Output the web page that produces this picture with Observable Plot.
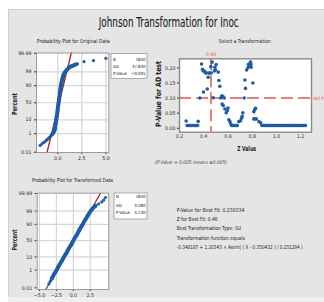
<!DOCTYPE html>
<html><head><meta charset="utf-8">
<script src="https://cdn.jsdelivr.net/npm/d3@7"></script>
<script src="https://cdn.jsdelivr.net/npm/@observablehq/plot@0.6"></script>
<style>
html,body{margin:0;padding:0;background:#fff;}
#root{position:relative;width:324px;height:302px;overflow:hidden;background:#fff;}
#bg{position:absolute;left:8px;top:9px;width:316px;height:287px;background:#e5e5e5;border-left:1px solid #cfcfcf;border-top:1px solid #cfcfcf;}
#bg2{position:absolute;left:8px;top:297px;width:316px;height:5px;background:#efefef;}
#root svg{position:absolute;}
</style></head>
<body><div id="root"><div id="bg"></div><div id="bg2"></div></div>
<script>
// ---------- data ----------
const probLabels = ["0.01","1","10","50","90","99","99.99"];
const probZ = [-3.719,-2.326,-1.282,0,1.282,2.326,3.719];
const origXTicks = [0, 2.5, 5];
const transXTicks = [-5, -2.5, 0, 2.5];
const zTicks = [0.2, 0.4, 0.6, 0.8, 1.0, 1.2];
const pTicks = [0, 0.05, 0.10, 0.15, 0.20];

// Original data probability plot (x value, normal score)
const origLowX = [-1.82,-1.62,-1.47,-1.35,-1.22,-1.10,-0.98,-0.88,-0.77,-0.66];
const origLowZ = [-3.20,-3.08,-2.99,-2.93,-2.85,-2.77,-2.70,-2.62,-2.54,-2.45];
const origBodyX = [-0.56,-0.47,-0.39,-0.32,-0.28,-0.25,-0.20,-0.15,-0.11,-0.07,-0.03,0.00,0.05,0.10,0.15,0.20,0.24,0.28,0.33,0.40,0.48,0.58,0.70,0.85,1.00,1.15,1.30,1.45,1.60,1.75,1.90];
const origBodyZ = [-2.36,-2.27,-2.17,-2.05,-1.90,-1.70,-1.50,-1.30,-1.10,-0.90,-0.70,-0.45,-0.20,0.05,0.30,0.55,0.80,1.05,1.30,1.55,1.80,2.05,2.25,2.40,2.52,2.62,2.70,2.76,2.80,2.84,2.88];
const origHighX = [2.05,2.73,3.71,5.00];
const origHighZ = [2.93,3.09,3.17,3.34];
const fitOrigX = [-1.11, 1.41];
const fitOrigZ = [-3.74, 3.74];

// Transformed data probability plot
const transX = [-3.60,-3.40,-3.20,-3.00,-2.80,-2.55,-2.35,-2.15,-1.95,-1.70,-1.50,-1.30,-1.05,-0.85,-0.65,-0.40,-0.20,0.00,0.20,0.45,0.65,0.85,1.05,1.30,1.50,1.70,1.95,2.15,2.40,2.65,2.95,3.30,3.75,4.20,4.50,4.75];
const transZ = [-3.40,-3.20,-3.00,-2.80,-2.60,-2.40,-2.20,-2.00,-1.80,-1.60,-1.40,-1.20,-1.00,-0.80,-0.60,-0.40,-0.20,0.00,0.20,0.40,0.60,0.80,1.00,1.20,1.40,1.60,1.80,2.00,2.20,2.40,2.60,2.75,2.90,3.05,3.20,3.40];
const fitTransX = [-4.07, 4.01];
const fitTransZ = [-3.85, 3.74];

// Select a transformation (Z value, P-value)
const selZ = [0.255,0.263,0.27,0.28,0.29,0.30,0.31,0.32,0.33,0.34,0.35,0.354,
  0.368,0.382,0.39,0.396,0.407,0.398,0.415,0.42,0.429,0.437,0.442,0.45,0.462,0.459,0.47,0.478,0.488,0.492,0.503,0.497,0.52,0.525,0.533,0.54,0.548,0.558,0.569,0.552,0.561,0.575,0.586,0.60,0.595,0.608,0.616,0.624,
  0.63,0.64,0.65,0.66,0.67,0.677,
  0.69,0.704,0.712,0.718,0.723,0.734,0.74,0.745,0.754,0.765,0.77,0.775,0.779,0.783,0.787,0.79,0.792,0.806,0.814,0.822,0.828,0.814,0.822,0.834,0.856,0.87,
  0.88,0.89,0.90,0.91,0.92,0.93,0.94,0.95,0.96,0.97,0.98,0.99,1.00,1.01,1.02,1.03,1.04,1.05,1.06,1.07,1.08,1.09,1.10,1.11,1.12,1.13,1.14,1.15,1.16,1.17,1.18,1.19,1.20,1.21,1.22,1.23,1.24];
const selP = [0.024,0.009,0.009,0.009,0.009,0.009,0.009,0.009,0.009,0.009,0.009,0.023,
  0.100,0.213,0.195,0.190,0.188,0.120,0.185,0.182,0.130,0.169,0.183,0.183,0.183,0.204,0.219,0.101,0.190,0.202,0.211,0.193,0.186,0.158,0.139,0.100,0.107,0.106,0.100,0.080,0.075,0.064,0.051,0.067,0.058,0.028,0.022,0.014,
  0.009,0.009,0.009,0.009,0.009,0.009,
  0.022,0.025,0.033,0.040,0.051,0.100,0.160,0.132,0.193,0.200,0.212,0.205,0.208,0.215,0.219,0.212,0.202,0.150,0.055,0.062,0.066,0.031,0.031,0.031,0.022,0.018,
  0.009,0.009,0.009,0.009,0.009,0.009,0.009,0.009,0.009,0.009,0.009,0.009,0.009,0.009,0.009,0.009,0.009,0.009,0.009,0.009,0.009,0.009,0.009,0.009,0.009,0.009,0.009,0.009,0.009,0.009,0.009,0.009,0.009,0.009,0.009,0.009,0.009];
const bestZ = 0.46;
const refP = 0.10;

const legendLabels = ["N","AD","P-Value"];
const legendOrig = ["1840","37.830","<0.005"];
const legendTrans = ["1840","0.480","0.230"];
const infoLines = ["P-Value for Best Fit: 0.230334","Z for Best Fit: 0.46","Best Transformation Type: SU","Transformation function equals","-0.348187 + 1.20343 × Asinh( ( X - 0.350432 ) / 0.231294 )"];

// ---------- build ----------
const FONT = "'Liberation Sans Narrow','DejaVu Sans Condensed',sans-serif";
const blue = "#1f5ba6", fitRed = "#a3262a", refRed = "#e05650";
const probMap = new Map(probZ.map((z,i)=>[z, probLabels[i]]));
const zip = (xs, ys) => xs.map((x,i)=>({x, y: ys[i]}));
const root = document.getElementById("root");
const baseStyle = {background:"transparent", fontFamily:FONT, fontSize:"5.2px", overflow:"visible", color:"#2a2a2a"};

function place(el, left, top){ el.style.left = left+"px"; el.style.top = top+"px"; root.appendChild(el); }

// Panel 1
const o1Low = zip(origLowX, origLowZ), o1Body = zip(origBodyX, origBodyZ), o1High = zip(origHighX, origHighZ);
const p1 = Plot.plot({
  width:118, height:128, marginLeft:36, marginRight:9.7, marginTop:12.5, marginBottom:16,
  style: baseStyle,
  x:{domain:[-2.2,5.3], ticks:origXTicks, tickFormat:d3.format(".1f"), tickSize:2, tickPadding:2, label:null},
  y:{domain:[-3.74,3.74], ticks:probZ, tickFormat:d=>probMap.get(d), tickSize:2, tickPadding:3, label:null},
  marks:[
    Plot.frame({fill:"white"}),
    Plot.ruleY(probZ.slice(1,-1), {stroke:"#d6d6d6", strokeWidth:1.2}),
    Plot.ruleX(origXTicks, {stroke:"#d6d6d6", strokeWidth:1.2}),
    Plot.line(zip(fitOrigX, fitOrigZ), {x:"x", y:"y", stroke:fitRed, strokeWidth:1.3}),
    Plot.line(o1Body, {x:"x", y:"y", stroke:blue, strokeWidth:4, strokeLinecap:"round", strokeLinejoin:"round"}),
    Plot.dot([...o1Low, ...o1Body, ...o1High], {x:"x", y:"y", r:1.6, fill:blue}),
    Plot.frame({stroke:"#9a9a9a"})
  ]
});
place(p1, 0, 40);

// Panel 2
const sel = zip(selZ, selP);
const p2 = Plot.plot({
  width:174, height:110, marginLeft:29, marginRight:13, marginTop:18.3, marginBottom:18.3,
  style: baseStyle,
  x:{domain:[0.2,1.29], ticks:zTicks, tickFormat:d3.format(".1f"), tickSize:1, tickPadding:1.5, label:null},
  y:{domain:[-0.013,0.23], ticks:pTicks, tickFormat:d3.format(".2f"), tickSize:2, tickPadding:2, label:null},
  marks:[
    Plot.frame({fill:"white"}),
    Plot.ruleX([bestZ], {x:d=>d, stroke:refRed, strokeWidth:1.5, strokeDasharray:"12,5"}),
    Plot.ruleY([refP], {y:d=>d, stroke:refRed, strokeWidth:1.5, strokeDasharray:"12,5"}),
    Plot.dot(sel, {x:"x", y:"y", r:1.8, fill:blue}),
    Plot.text([bestZ], {x:d=>d, frameAnchor:"top", dy:-6, text:d=>d.toFixed(2), fill:refRed, fontSize:5}),
    Plot.text([refP], {y:d=>d, frameAnchor:"right", dx:2, textAnchor:"start", text:()=>"Ref P", fill:refRed, fontSize:4.5}),
    Plot.frame({stroke:"#8a8a8a", strokeWidth:1.4})
  ]
});
place(p2, 150, 40);

// Panel 3
const t3 = zip(transX, transZ);
const p3 = Plot.plot({
  width:118, height:122, marginLeft:36.7, marginRight:9.7, marginTop:12.7, marginBottom:13,
  style: baseStyle,
  x:{domain:[-5.34,5.24], ticks:transXTicks, tickFormat:d3.format(".1f"), tickSize:2, tickPadding:2, label:null},
  y:{domain:[-3.85,3.74], ticks:probZ, tickFormat:d=>probMap.get(d), tickSize:2, tickPadding:3, label:null},
  marks:[
    Plot.frame({fill:"white"}),
    Plot.ruleY(probZ.slice(1,-1), {stroke:"#d6d6d6", strokeWidth:1.2}),
    Plot.ruleX(transXTicks, {stroke:"#d6d6d6", strokeWidth:1.2}),
    Plot.line(zip(fitTransX, fitTransZ), {x:"x", y:"y", stroke:fitRed, strokeWidth:1.3}),
    Plot.line(t3.slice(2, 32), {x:"x", y:"y", stroke:blue, strokeWidth:4, strokeLinecap:"round", strokeLinejoin:"round"}),
    Plot.dot(t3, {x:"x", y:"y", r:1.6, fill:blue}),
    Plot.frame({stroke:"#9a9a9a"})
  ]
});
place(p3, 0, 180);

// ---------- overlay texts ----------
const svg = d3.select(root).append("svg").attr("width",324).attr("height",302)
  .style("left","0px").style("top","0px").style("pointer-events","none")
  .attr("font-family", FONT);
function txt(x, y, s, o={}){
  const t = svg.append("text").attr("x",x).attr("y",y).text(s)
    .attr("font-size", o.size||5.5).attr("fill", o.fill||"#222")
    .attr("text-anchor", o.anchor||"start");
  if (o.len) t.attr("textLength", o.len).attr("lengthAdjust","spacingAndGlyphs");
  if (o.weight) t.attr("font-weight", o.weight);
  if (o.italic) t.attr("font-style","italic");
  if (o.rot) t.attr("transform", `rotate(-90,${x},${y})`);
  return t;
}
txt(168.7, 27, "Johnson Transformation for Inoc", {size:14, len:140, anchor:"middle", fill:"#111"});
txt(73.3, 43, "Probability Plot for Original Data", {size:5.5, len:73, anchor:"middle"});
txt(244.7, 43, "Select a Transformation", {size:5.5, len:52, anchor:"middle"});
txt(72.5, 182, "Probability Plot for Transformed Data", {size:5.5, len:81, anchor:"middle"});
txt(16.5, 104, "Percent", {size:7, len:22, anchor:"middle", weight:"bold", rot:true});
txt(16.5, 240, "Percent", {size:7, len:21, anchor:"middle", weight:"bold", rot:true});
txt(161, 94, "P-Value for AD test", {size:7.5, len:66, anchor:"middle", weight:"bold", rot:true});
txt(246.7, 151, "Z Value", {size:7, len:19, anchor:"middle", weight:"bold"});
txt(155, 164, "(P-Value = 0.005 means ≤0.005)", {size:5, len:72, italic:true, fill:"#444"});

function legendBox(x, y, w, h, baselines, vals){
  svg.append("rect").attr("x",x).attr("y",y).attr("width",w).attr("height",h)
    .attr("fill","white").attr("stroke","#9a9a9a").attr("stroke-width",0.8);
  legendLabels.forEach((l,i)=>{
    txt(x+2, baselines[i], l, {size:4.3});
    txt(x+w-1.5, baselines[i], vals[i], {size:4.3, anchor:"end"});
  });
}
legendBox(111, 53.5, 36, 25, [60.5, 68.2, 74.8], legendOrig);
legendBox(114, 193, 33, 26, [198, 206.5, 214], legendTrans);

const infoY = [211.8, 220.8, 230.1, 239.8, 249.1];
const infoLen = [67.7, 41, 64.3, 68, 126];
infoLines.forEach((s,i)=> txt(176.7, infoY[i], s, {size:5.5, len:infoLen[i]}));
</script>
</body></html>
